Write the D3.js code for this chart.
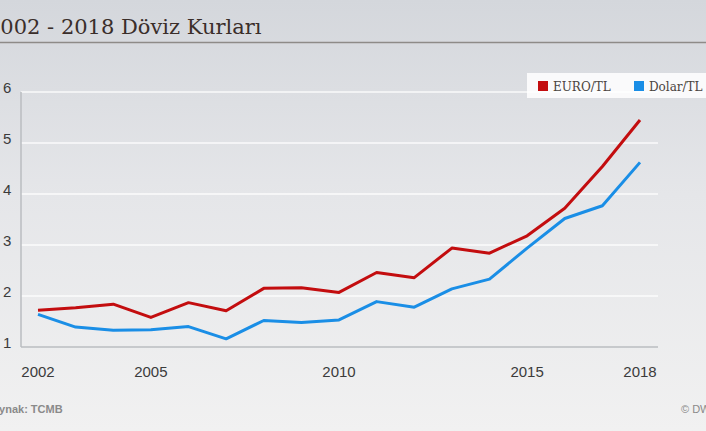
<!DOCTYPE html>
<html>
<head>
<meta charset="utf-8">
<script src="https://cdn.jsdelivr.net/npm/d3@7"></script>
<style>
  html, body { margin: 0; padding: 0; overflow: hidden; }
  svg { display: block; }
</style>
</head>
<body>
<div id="chart"></div>
<script>
const width = 706;
const height = 431;

// yillik ortalama kurlar
const years = [2002, 2003, 2004, 2005, 2006, 2007, 2008, 2009, 2010, 2011, 2012, 2013, 2014, 2015, 2016, 2017, 2018];
const euroTL = [1.72, 1.77, 1.84, 1.58, 1.87, 1.71, 2.15, 2.16, 2.07, 2.46, 2.36, 2.94, 2.84, 3.18, 3.72, 4.54, 5.45];
const dolarTL = [1.64, 1.39, 1.33, 1.34, 1.40, 1.16, 1.52, 1.48, 1.53, 1.89, 1.78, 2.14, 2.33, 2.94, 3.52, 3.77, 4.62];
const xTicks = [2002, 2005, 2010, 2015, 2018];
const yTicks = [1, 2, 3, 4, 5, 6];
const seriesNames = ["EURO/TL", "Dolar/TL"];
const seriesColors = ["#c30d0f", "#1a8ee6"];

const svg = d3.select("div#chart").append("svg")
    .attr("width", width)
    .attr("height", height);

// background
const defs = svg.append("defs");
const grad = defs.append("linearGradient")
    .attr("id", "bg")
    .attr("x1", 0).attr("y1", 0).attr("x2", 0).attr("y2", 1);
grad.append("stop").attr("offset", "0%").attr("stop-color", "#d4d7dc");
grad.append("stop").attr("offset", "45%").attr("stop-color", "#e5e6e9");
grad.append("stop").attr("offset", "100%").attr("stop-color", "#f1f1f1");
svg.append("rect")
    .attr("width", width).attr("height", height)
    .attr("fill", "url(#bg)");

// title (starts off the left edge like the reference)
svg.append("text")
    .attr("x", -13)
    .attr("y", 34)
    .attr("font-family", "DejaVu Serif")
    .attr("font-size", 21)
    .attr("fill", "#3a2e2a")
    .text("2002 - 2018 Döviz Kurları");
svg.append("line")
    .attr("x1", 0).attr("x2", width)
    .attr("y1", 42.5).attr("y2", 42.5)
    .attr("stroke", "#8e8b88")
    .attr("stroke-width", 1.6);

const x = d3.scaleLinear().domain([2002, 2018]).range([38, 640]);
const y = d3.scaleLinear().domain([1, 6]).range([347, 92]);
const left = 21, right = 658;

// gridlines
svg.append("g")
    .selectAll("line")
    .data(yTicks.filter(d => d > 1))
    .join("line")
    .attr("x1", left).attr("x2", right)
    .attr("y1", d => y(d)).attr("y2", d => y(d))
    .attr("stroke", "#ffffff")
    .attr("stroke-opacity", 0.85)
    .attr("stroke-width", 1.5);

// axes lines
svg.append("line")
    .attr("x1", left).attr("x2", left)
    .attr("y1", y(6)).attr("y2", y(1))
    .attr("stroke", "#babdc1").attr("stroke-width", 1.5);
svg.append("line")
    .attr("x1", left).attr("x2", right)
    .attr("y1", y(1)).attr("y2", y(1))
    .attr("stroke", "#babdc1").attr("stroke-width", 1.5);

// y labels
svg.append("g")
    .selectAll("text")
    .data(yTicks)
    .join("text")
    .attr("x", 3)
    .attr("y", d => y(d) + 1)
    .attr("font-family", "Liberation Sans")
    .attr("font-size", 15)
    .attr("fill", "#3b3b3b")
    .text(d => d);

// x labels
svg.append("g")
    .selectAll("text")
    .data(xTicks)
    .join("text")
    .attr("x", d => x(d))
    .attr("y", 377)
    .attr("text-anchor", "middle")
    .attr("font-family", "Liberation Sans")
    .attr("font-size", 15)
    .attr("fill", "#3b3b3b")
    .text(d => d);

// lines
const line = d3.line()
    .x((d, i) => x(years[i]))
    .y(d => y(d));

[euroTL, dolarTL].forEach((vals, k) => {
    svg.append("path")
        .datum(vals)
        .attr("d", line)
        .attr("fill", "none")
        .attr("stroke", seriesColors[k])
        .attr("stroke-width", 3)
        .attr("stroke-linejoin", "round");
});

// legend
svg.append("rect")
    .attr("x", 527).attr("y", 73)
    .attr("width", 190).attr("height", 25)
    .attr("fill", "#ffffff").attr("fill-opacity", 0.85);
const legX = [538, 634];
seriesNames.forEach((name, k) => {
    svg.append("rect")
        .attr("x", legX[k]).attr("y", 81)
        .attr("width", 10).attr("height", 10)
        .attr("fill", seriesColors[k]);
    svg.append("text")
        .attr("x", legX[k] + 15)
        .attr("y", 91)
        .attr("font-family", "DejaVu Serif")
        .attr("font-size", 12)
        .attr("fill", "#4a4440")
        .text(name);
});

// footer
svg.append("text")
    .attr("x", -15).attr("y", 413)
    .attr("font-family", "Liberation Sans")
    .attr("font-weight", "bold")
    .attr("font-size", 11)
    .attr("fill", "#8a8a8a")
    .text("Kaynak: TCMB");
svg.append("text")
    .attr("x", 681).attr("y", 413)
    .attr("font-family", "Liberation Sans")
    .attr("font-size", 11)
    .attr("fill", "#8a8a8a")
    .text("© DW");
</script>
</body>
</html>
